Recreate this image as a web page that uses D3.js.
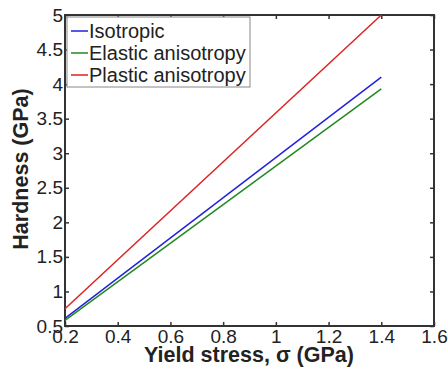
<html>
<head>
<script src="https://d3js.org/d3.v7.min.js"></script>
<style>
body { margin: 0; background: #fff; }
text { font-family: Arial, "Liberation Sans", sans-serif; }
</style>
</head>
<body>
<svg id="chart" width="448" height="373"></svg>
<script>
// data
const stress = [0.2, 1.4];
const isotropic = [0.61, 4.10];
const elastic = [0.58, 3.93];
const plastic = [0.75, 5.0];
const xTicks = [0.2, 0.4, 0.6, 0.8, 1, 1.2, 1.4, 1.6];
const yTicks = [0.5, 1, 1.5, 2, 2.5, 3, 3.5, 4, 4.5, 5];
const seriesNames = ["Isotropic", "Elastic anisotropy", "Plastic anisotropy"];
const seriesColors = ["#2222dd", "#228822", "#dd2222"];

const svg = d3.select("#chart");
const mLeft = 65, mRight = 434, mTop = 15, mBottom = 326;

let x = d3.scaleLinear().domain([0.2, 1.6]).range([mLeft, mRight]);
let y = d3.scaleLinear().domain([0.5, 5]).range([mBottom, mTop]);

// frame
svg.append("rect")
    .attr("x", mLeft).attr("y", mTop)
    .attr("width", mRight - mLeft).attr("height", mBottom - mTop)
    .attr("fill", "none").attr("stroke", "#333").attr("stroke-width", 2);

// ticks, pointing inward on all four sides
let fmt = d => String(d);
svg.append("g").attr("transform", `translate(0,${mBottom})`)
    .call(d3.axisBottom(x).tickValues(xTicks).tickSize(-4).tickPadding(4).tickFormat(fmt))
    .call(g => g.select(".domain").remove());
svg.append("g").attr("transform", `translate(0,${mTop})`)
    .call(d3.axisTop(x).tickValues(xTicks).tickSize(-4).tickFormat(""))
    .call(g => g.select(".domain").remove());
svg.append("g").attr("transform", `translate(${mLeft},0)`)
    .call(d3.axisLeft(y).tickValues(yTicks).tickSize(-4).tickPadding(2).tickFormat(fmt))
    .call(g => g.select(".domain").remove());
svg.append("g").attr("transform", `translate(${mRight},0)`)
    .call(d3.axisRight(y).tickValues(yTicks).tickSize(-4).tickFormat(""))
    .call(g => g.select(".domain").remove());

svg.selectAll(".tick line").attr("stroke", "#333").attr("stroke-width", 1.5);
svg.selectAll(".tick text").attr("font-size", 19).attr("fill", "#222")
    .style("font-family", "Arial, 'Liberation Sans', sans-serif");

// lines
const allSeries = [isotropic, elastic, plastic];
let line = d3.line().x((d, i) => x(stress[i])).y(d => y(d));
allSeries.forEach((s, k) => {
    svg.append("path")
        .datum(s)
        .attr("d", line)
        .attr("fill", "none")
        .attr("stroke", seriesColors[k])
        .attr("stroke-width", 1.5);
});

// legend
let lg = svg.append("g");
lg.append("rect")
    .attr("x", 67).attr("y", 17).attr("width", 183).attr("height", 70)
    .attr("fill", "#fff").attr("stroke", "#888").attr("stroke-width", 1);
seriesNames.forEach((name, k) => {
    let cy = 31 + k * 22;
    lg.append("line")
        .attr("x1", 71).attr("x2", 88).attr("y1", cy).attr("y2", cy)
        .attr("stroke", seriesColors[k]).attr("stroke-width", 1.5);
    lg.append("text")
        .attr("x", 89).attr("y", cy).attr("dy", "0.36em")
        .attr("font-size", 20).attr("fill", "#222")
        .text(name);
});

// axis titles
svg.append("text")
    .attr("x", 249).attr("y", 362)
    .attr("text-anchor", "middle")
    .attr("font-size", 21.5).attr("font-weight", "bold").attr("fill", "#222")
    .text("Yield stress, σ (GPa)");
svg.append("text")
    .attr("transform", `translate(28,169) rotate(-90)`)
    .attr("text-anchor", "middle")
    .attr("font-size", 21.5).attr("font-weight", "bold").attr("fill", "#222")
    .text("Hardness (GPa)");
</script>
</body>
</html>
